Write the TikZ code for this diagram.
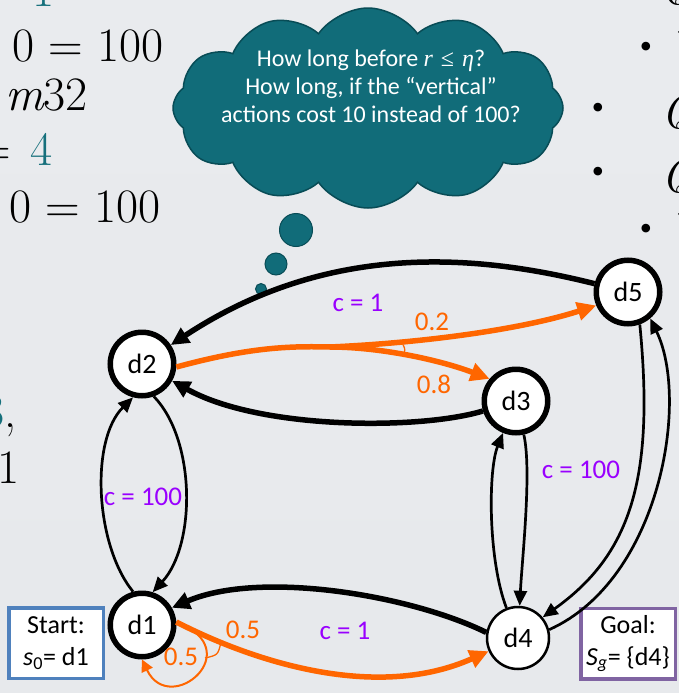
\documentclass[tikz,border=0pt]{standalone}
\usepackage{fontspec}
\newfontfamily\calibri{Carlito}
\newfontfamily\libserif{Liberation Serif}
\usetikzlibrary{arrows.meta,shapes.symbols}
\definecolor{bgtop}{RGB}{233,235,238}
\definecolor{bgmid}{RGB}{221,224,228}
\definecolor{bgbot}{RGB}{231,233,236}
\definecolor{cloudteal}{RGB}{17,108,121}
\definecolor{cloudedge}{RGB}{8,76,86}
\definecolor{mteal}{RGB}{22,112,124}
\definecolor{porange}{RGB}{255,102,0}
\definecolor{cpurple}{RGB}{153,0,255}
\definecolor{startblue}{RGB}{79,129,189}
\definecolor{goalpurple}{RGB}{128,100,162}
\begin{document}
\begin{tikzpicture}[x=1pt,y=-1pt,
  statenode/.style={circle, draw=black, line width=5.5, fill=white, minimum size=63.5, inner sep=0,
    font=\calibri\fontsize{28}{30}\selectfont},
  goalnode/.style={statenode, line width=2.5, minimum size=62},
  bigmath/.style={inner sep=0, font=\fontsize{48}{50}\selectfont},
  bulletnode/.style={inner sep=0, font=\libserif\fontsize{36}{40}\selectfont},
  costlab/.style={inner sep=0, text=cpurple, font=\calibri\fontsize{27}{30}\selectfont},
  problab/.style={inner sep=0, text=porange, font=\calibri\fontsize{27}{30}\selectfont},
  boxnode/.style={rectangle, fill=white, line width=3.5, minimum width=94.5, minimum height=70.5,
    inner sep=0, align=center, font=\calibri\fontsize{26}{32}\selectfont},
  thickedge/.style={draw=black, line width=5.5, -{Triangle[length=18pt,width=17pt]}},
  thinedge/.style={draw=black, line width=2.7, -{Triangle[length=15pt,width=13pt]}},
  orthick/.style={draw=porange, line width=5.5, -{Triangle[length=19pt,width=18pt]}},
  orthin/.style={draw=porange, line width=2, -{Triangle[length=12pt,width=12pt]}},
  marker/.style={draw=porange, line width=1.3},
  bubble/.style={circle, fill=cloudteal, draw=cloudedge, line width=1, inner sep=0}
]
\useasboundingbox (0,0) rectangle (679,693);
\clip (0,0) rectangle (679,693);
\shade[top color=bgtop, middle color=bgmid, bottom color=bgbot] (0,0) rectangle (679,693);

% partial slide text, left
\node[bigmath, anchor=base] (l0) at (44,7) {\textcolor{mteal}{1}};
\node[bigmath, anchor=base east] (l1) at (164,62) {0 = 100};
\node[bigmath, anchor=base east] (l2) at (88,110) {\itshape m\upshape 32};
\node[bigmath, anchor=base east] (l3) at (53,165) {=\hspace{20pt}\textcolor{mteal}{4}};
\node[bigmath, anchor=base east] (l4) at (161,222) {0 = 100};
\node[bigmath, anchor=base east] (l5) at (17,427) {\textcolor{mteal}{3},};
\node[bigmath, anchor=base east] (l6) at (20,483) {1};

% partial slide text, right
\node[bigmath, anchor=base west] (r0) at (660,5) {\itshape Q};
\node[bulletnode] (bu1) at (646,50) {•};
\node[bigmath, anchor=base west] (r1) at (668,64) {\itshape V};
\node[bulletnode] (bu2) at (598,111) {•};
\node[bigmath, anchor=base west] (r2) at (661,128) {\itshape Q};
\node[bulletnode] (bu3) at (598,175) {•};
\node[bigmath, anchor=base west] (r3) at (661,192) {\itshape Q};
\node[bulletnode] (bu4) at (646,232) {•};
\node[bigmath, anchor=base west] (r4) at (668,246) {\itshape V};

% thought cloud
\node[cloud, cloud puffs=12, cloud puff arc=110, cloud ignores aspect, minimum width=390, minimum height=200,
  fill=cloudteal, draw=cloudedge, line width=1.5] (cloud) at (368,108) {};
\node[inner sep=0, align=center, text=white, font=\calibri\fontsize{24}{28}\selectfont] (question) at (371,86)
  {How long before {\libserif\itshape r}\,\,{\libserif ≤}\,\,{\libserif\itshape η}?\\How long, if the “vertical”\\actions cost 10 instead of 100?};
\node[bubble, minimum size=33] (b1) at (296,230) {};
\node[bubble, minimum size=22] (b2) at (276,264) {};
\node[bubble, minimum size=11] (b3) at (261,289) {};

% states
\node[statenode] (d1) at (142,625) {d1};
\node[statenode] (d2) at (142,364) {d2};
\node[statenode] (d3) at (516,401) {d3};
\node[goalnode]  (d4) at (518,638) {d4};
\node[statenode] (d5) at (628,292) {d5};

% start / goal boxes
\node[boxnode, draw=startblue] (start) at (56,643) {Start:\\{\itshape s}\textsubscript{0}= d1};
\node[boxnode, draw=goalpurple] (goal) at (628,643.5) {Goal:\\{\itshape S}\textsubscript{\itshape g}= \{d4\}};

% black edges
\draw[thickedge] (d5.166) .. controls (480,255) and (330,240) .. (d2);
\draw[thickedge] (d3) .. controls (420,430) and (260,430) .. (d2);
\draw[thickedge] (d4.170) .. controls (410,595) and (260,570) .. (d1.30);
\draw[thinedge] (d1.105) .. controls (95,545) and (90,440) .. (d2.-105);
\draw[thinedge] (d2.-70) .. controls (196,440) and (196,545) .. (d1.72);
\draw[thinedge] (d4) .. controls (488,560) and (488,470) .. (d3);
\draw[thinedge] (d3) .. controls (532,470) and (522,560) .. (d4);
\draw[thinedge] (d5.-70) .. controls (655,480) and (630,555) .. (d4.40);
\draw[thinedge] (d4.15) .. controls (660,580) and (690,400) .. (d5.-50);

% orange edges from d2
\coordinate (sp) at (330,347);
\draw[orthick] (d2.-5) .. controls (250,347) and (290,346) .. (sp) .. controls (420,343) and (520,330) .. (d5.203);
\draw[orthick] (sp) .. controls (380,347) and (440,360) .. (d3.140);
\draw[marker] (403,344.5) .. controls (405.5,350) .. (402.5,356);

% orange edges from d1
\coordinate (sp2) at (d1.5);
\draw[orthick] (sp2) .. controls (260,665) and (380,700) .. (d4);
\draw[orthin] (sp2) .. controls (250,650) and (170,718) .. (d1.-90);
\draw[marker] (205,658) .. controls (218,655) .. (221,642);

% labels
\node[costlab] (c1) at (358,303) {c = 1};
\node[problab] (p02) at (432,322) {0.2};
\node[problab] (p08) at (434,384) {0.8};
\node[costlab] (c100a) at (143,497) {c = 100};
\node[costlab] (c100b) at (581,470) {c = 100};
\node[problab] (p05a) at (243,630) {0.5};
\node[problab] (p05b) at (181,657) {0.5};
\node[costlab] (c1b) at (345,631) {c = 1};
\end{tikzpicture}
\end{document}
